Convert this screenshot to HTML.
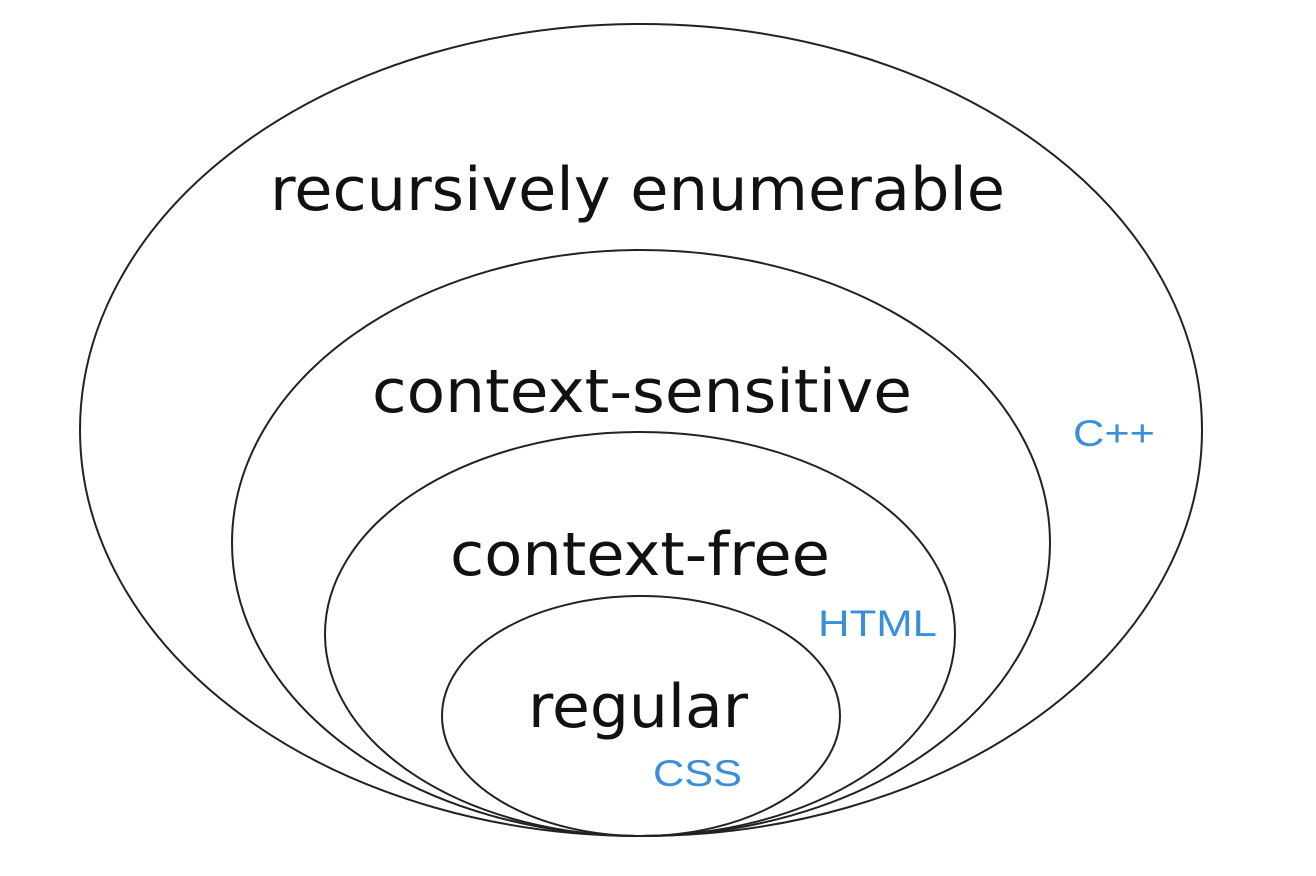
<!DOCTYPE html>
<html><head><meta charset="utf-8"><style>
html,body{margin:0;padding:0;background:#fff;width:1316px;height:876px;overflow:hidden}
</style></head><body>
<svg width="1316" height="876" viewBox="0 0 1316 876" xmlns="http://www.w3.org/2000/svg">
<g fill="none" stroke="#222" stroke-width="2">
<ellipse cx="641" cy="430" rx="561" ry="406"/>
<ellipse cx="641" cy="543" rx="409" ry="293"/>
<ellipse cx="640" cy="634" rx="315" ry="202"/>
<ellipse cx="641" cy="716" rx="199" ry="120"/>
</g>
<g font-family="'DejaVu Sans', 'Liberation Sans', sans-serif" fill="#111" font-size="60">
<text x="270" y="210" textLength="735" lengthAdjust="spacingAndGlyphs">recursively enumerable</text>
<text x="372" y="412" textLength="540" lengthAdjust="spacingAndGlyphs">context-sensitive</text>
<text x="450" y="575" textLength="380" lengthAdjust="spacingAndGlyphs">context-free</text>
<text x="528" y="727" textLength="220" lengthAdjust="spacingAndGlyphs">regular</text>
</g>
<g font-family="'Liberation Sans', sans-serif" fill="#3a8fd8" font-size="37">
<text x="1073" y="446" textLength="82" lengthAdjust="spacingAndGlyphs">C++</text>
<text x="818" y="636" textLength="119" lengthAdjust="spacingAndGlyphs">HTML</text>
<text x="653" y="786" textLength="89" lengthAdjust="spacingAndGlyphs">CSS</text>
</g>
</svg>
</body></html>
